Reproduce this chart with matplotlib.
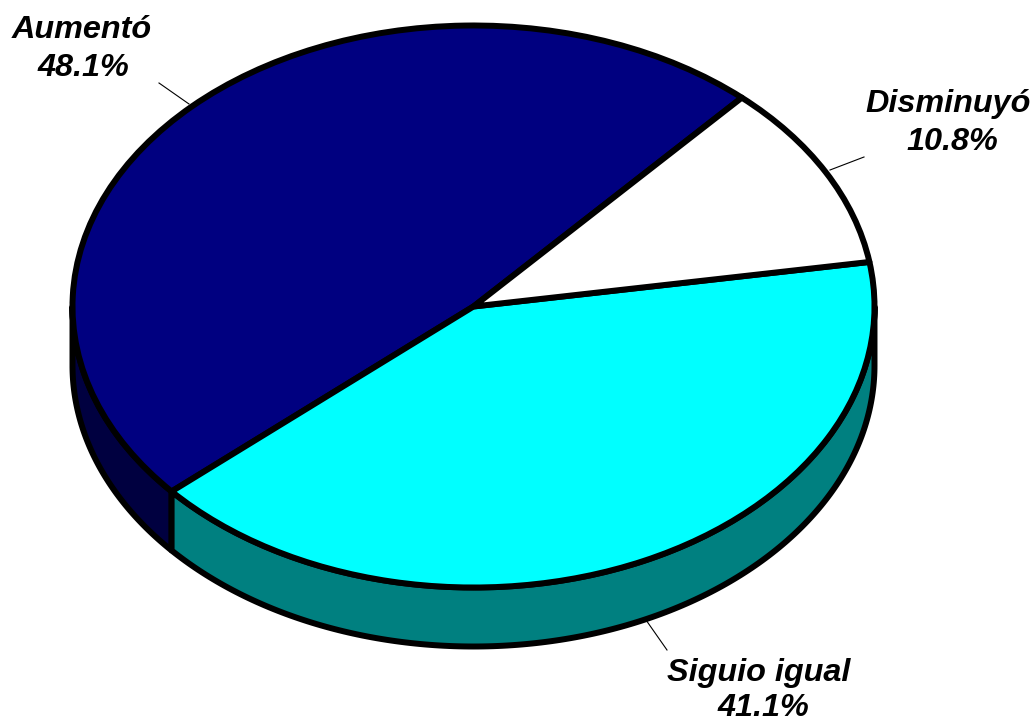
# coding: utf-8
import numpy as np
import matplotlib
matplotlib.use('Agg')
import matplotlib.pyplot as plt
from matplotlib.patches import Polygon

plt.rcParams['font.family'] = ['Liberation Sans', 'DejaVu Sans']

labels = ['Aumentó', 'Siguio igual', 'Disminuyó']
values = [48.1, 41.1, 10.8]
top_colors = ['#000080', '#00FFFF', '#FFFFFF']
side_colors = ['#000040', '#008080', '#808080']
start = 48.0

# tilted pie: a unit circle squeezed by the axes limits
W, H = 1036, 723
cx, cy = 473.5, 306.5
rx, ry = 401.0, 281.0
depth = 59.0 / ry
lw = 4.3


def to_x(px):
    return (px - cx) / rx


def to_y(py):
    return (cy - py) / ry


fig = plt.figure(figsize=(W / 100, H / 100), dpi=100)
ax = fig.add_axes([0, 0, 1, 1])

# side wall, only the front half of the rim shows
edges = start + np.cumsum([0] + values) * 3.6
for i in range(len(values)):
    a0 = max(edges[i], 180)
    a1 = min(edges[i + 1], 360)
    if a1 <= a0:
        continue
    t = np.radians(np.linspace(a0, a1, 200))
    xs = np.r_[np.cos(t), np.cos(t[::-1])]
    ys = np.r_[np.sin(t), np.sin(t[::-1]) - depth]
    ax.add_patch(Polygon(np.c_[xs, ys], closed=True, fc=side_colors[i], ec='k',
                         lw=lw, joinstyle='round', zorder=1))

wedges, _ = ax.pie(values, colors=top_colors, startangle=start, counterclock=True,
                   radius=1.0, center=(0, 0), frame=False,
                   wedgeprops=dict(edgecolor='k', linewidth=lw, joinstyle='round', zorder=2))

ax.set_aspect('auto')
ax.set_xlim(to_x(0), to_x(W))
ax.set_ylim(to_y(H), to_y(0))
ax.axis('off')

# leader lines
leaders = {
    'Aumentó': ((159, 83), (189, 104)),
    'Siguio igual': ((667, 650), (646, 620)),
    'Disminuyó': ((864, 157), (830, 170)),
}
# name and percent sit a bit off each other, so they are placed apart (x, baseline)
name_pos = {
    'Aumentó': (81.5, 38),
    'Siguio igual': (759, 681),
    'Disminuyó': (948.5, 112),
}
pct_pos = {
    'Aumentó': (83, 76),
    'Siguio igual': (763, 716),
    'Disminuyó': (952, 150),
}
for name, val in zip(labels, values):
    (x0, y0), (x1, y1) = leaders[name]
    ax.plot([to_x(x0), to_x(x1)], [to_y(y0), to_y(y1)], color='k', lw=0.8, zorder=3)
    for (tx, ty), s in ((name_pos[name], name), (pct_pos[name], f'{val:.1f}%')):
        ax.text(to_x(tx), to_y(ty), s, ha='center', va='baseline',
                fontsize=23.3, fontweight='bold', fontstyle='italic', color='k',
                zorder=4, clip_on=False)

fig.savefig('out.png', dpi=100, facecolor='white')
